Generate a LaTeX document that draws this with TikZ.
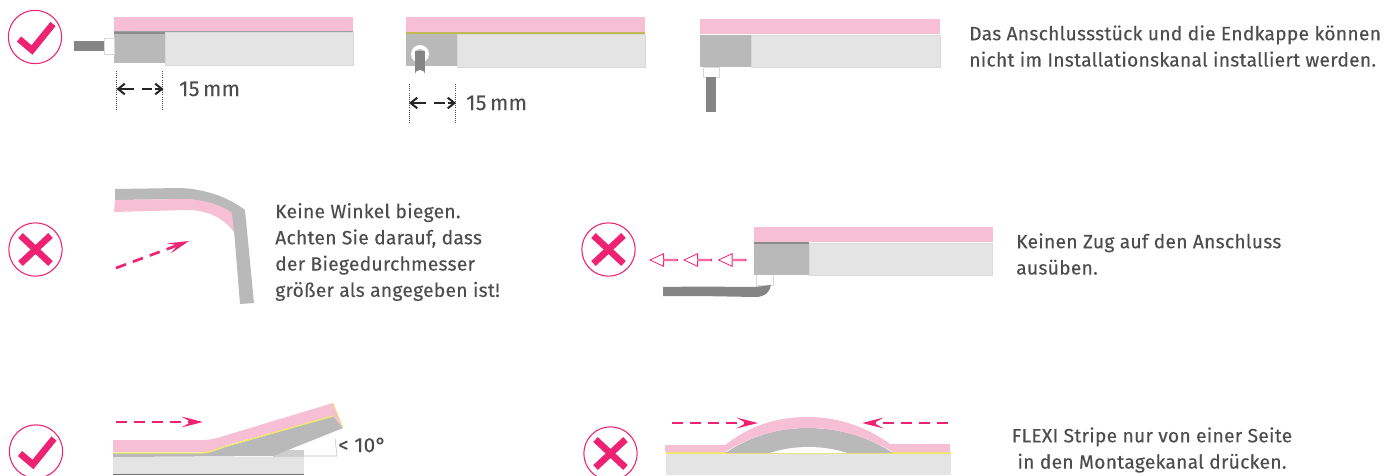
\documentclass[tikz,border=0pt]{standalone}
\usepackage{fontspec}
\setmainfont{Fira Sans}[LetterSpace=1.5, FakeBold=0.2]
\usepackage{xcolor}
\usetikzlibrary{arrows.meta, shapes.arrows}

\definecolor{stripepink}{HTML}{F6BFD3}
\definecolor{markpink}{HTML}{EE2273}
\definecolor{stripeyellow}{HTML}{EFE96A}
\definecolor{caselight}{HTML}{E4E4E4}
\definecolor{casedark}{HTML}{B9B9B9}
\definecolor{cablegrey}{HTML}{858585}
\definecolor{textgrey}{HTML}{4D4D4D}

\begin{document}
\begin{tikzpicture}[
        x=0.75pt, y=-0.75pt,
        ring/.style={circle, draw=markpink, line width=0.8pt, minimum size=40pt, inner sep=0pt},
        tick/.style={draw=markpink, line width=5pt},
        push/.style={draw=markpink, line width=2pt, dash pattern=on 8pt off 5.5pt, -{Stealth[inset=7pt, length=16pt, width=8pt]}},
        measure/.style={draw=black!85, line width=1.5pt, dash pattern=on 11pt off 6pt on 8pt off 2pt, {Straight Barb[length=5pt, width=8pt]}-{Straight Barb[length=5pt, width=8pt]}},
        guide/.style={draw=black!70, densely dotted, line width=0.6pt},
        lightcase/.style={fill=caselight, draw=black!15, line width=0.4pt},
        caption/.style={anchor=west, align=left, inner sep=0pt, text=textgrey, font=\fontsize{14.4pt}{19.7pt}\selectfont},
        pull/.style={single arrow, draw=markpink, fill=white, line width=0.6pt, shape border rotate=180, minimum height=20.5pt, minimum width=9.5pt, single arrow head extend=2.2pt, single arrow tip angle=50, inner sep=0pt}
    ]
        \useasboundingbox (0,0) rectangle (1389,475);

        % marks
        \foreach \name/\cx/\cy in {okA/35/37, okB/36/451.5} {
            \node [ring] (\name) at (\cx,\cy) {};
            \draw [tick] (\cx-16,\cy+2) -- (\cx-3,\cy+13) -- (\cx+18,\cy-13);
        }
        \foreach \name/\cx/\cy in {noA/35.5/249.5, noB/608.5/249.5, noC/610.5/453.5} {
            \node [ring] (\name) at (\cx,\cy) {};
            \draw [tick] (\cx-15,\cy-14) -- (\cx+15,\cy+14);
            \draw [tick] (\cx-15,\cy+14) -- (\cx+15,\cy-14);
        }

        % first row, end connector
        \path [lightcase] (165,32) rectangle (353,65);
        \fill [casedark] (114,32) rectangle (165,63);
        \fill [stripepink] (114,17) rectangle (353,31);
        \fill [black!38] (114,31) rectangle (353,32);
        \fill [black!45] (114,32) rectangle (165,33.5);
        \draw [black!15, line width=0.5pt] (104,38) rectangle (114,54);
        \fill [cablegrey] (74,41) rectangle (104,51);
        \coordinate (ma) at (116.5,89);
        \coordinate (mb) at (163.5,89);
        \draw [guide] (116.5,71) -- (116.5,110);
        \draw [guide] (162.5,71) -- (162.5,110);
        \draw [measure] (ma) -- (mb);
        \node [caption, font=\fontsize{16pt}{18pt}\selectfont] (lena) at (179,89) {15\,mm};

        % first row, connector from behind
        \path [lightcase] (457,34) rectangle (645,67);
        \fill [casedark] (406,34) rectangle (457,66);
        \fill [stripepink] (406,17) rectangle (645,32);
        \fill [stripeyellow!80!black] (406,32) rectangle (645,33.5);
        \fill [white] (420,54) circle (9);
        \fill [casedark] (420,54) circle (5);
        \fill [cablegrey] (415,51) rectangle (425,77);
        \fill [white] (420,75.5) circle (5.5);
        \coordinate (mc) at (409,103);
        \coordinate (md) at (456,103);
        \draw [guide] (409,84) -- (409,123);
        \draw [guide] (455,84) -- (455,123);
        \draw [measure] (mc) -- (md);
        \node [caption, font=\fontsize{16pt}{18pt}\selectfont] (lenb) at (466,103) {15\,mm};

        % first row, connector from below
        \path [lightcase] (751,35) rectangle (940,67);
        \fill [casedark] (700,35) rectangle (751,67);
        \fill [stripepink] (700,19) rectangle (940,34);
        \draw [black!15, line width=0.5pt] (703,67) rectangle (719,77);
        \fill [cablegrey] (706,77) rectangle (716,112);
        \node [caption] (tiptop) at (969,46) {Das Anschlussstück und die Endkappe können\\nicht im Installationskanal installiert werden.};

        % second row, bent stripe
        \fill [casedark] (115,189) -- (180,188) .. controls (205,189) and (228,197) .. (245,210)
            -- (254,303) -- (240,304) -- (234,230) .. controls (222,214) and (205,200) .. (187,199) -- (115,200) -- cycle;
        \fill [stripepink] (115,200) -- (187,199) .. controls (205,200) and (222,205) .. (232,213)
            -- (234,232) .. controls (222,216) and (205,210) .. (187,210) -- (114,212) -- cycle;
        \coordinate (bendfrom) at (116,268);
        \coordinate (bendto) at (189,241);
        \draw [push] (bendfrom) -- (bendto);
        \node [caption] (tipbend) at (275,252) {Keine Winkel biegen.\\Achten Sie darauf, dass\\der Biegedurchmesser\\größer als angegeben ist!};

        % second row, pull on connector
        \path [lightcase] (809,243) rectangle (992,275);
        \fill [casedark] (754,243) rectangle (809,275);
        \fill [stripepink] (754,227) rectangle (993,242);
        \fill [black!45] (754,242) rectangle (809,243.5);
        \draw [black!15, line width=0.5pt] (756,275) -- (756,285) -- (773,285) -- (773,275);
        \fill [cablegrey] (663,287) -- (700,286.5) -- (750,287) .. controls (760,287) and (768,285) .. (771,285)
            .. controls (770,292) and (765,297) .. (755,297) -- (700,296) -- (663,296) -- cycle;
        \node [pull] (pulla) at (733,260) {};
        \node [pull] (pullb) at (698.5,260) {};
        \node [pull] (pullc) at (664.5,260) {};
        \node [caption] (tippull) at (1016,254) {Keinen Zug auf den Anschluss\\ausüben.};

        % third row, lifted stripe
        \fill [caselight] (113,457) rectangle (304,475);
        \fill [black!55] (113,474) rectangle (304,475);
        \fill [casedark!70!white] (273,450) rectangle (304,457);
        \fill [casedark] (113,453) -- (203,453) -- (333,416) -- (343,428) -- (273,456) -- (113,457) -- cycle;
        \fill [stripepink] (113,440) -- (203,440) .. controls (212,440) and (220,437) .. (227,435)
            -- (333,403) -- (343,428) -- (333,416) -- (227,445) .. controls (220,448) and (212,452) .. (203,452) -- (113,452) -- cycle;
        \draw [stripeyellow, line width=1pt] (113,453) -- (203,453) .. controls (212,452) and (220,448) .. (227,446) -- (333,416);
        \draw [stripeyellow, line width=0.6pt] (333,403) -- (343,428);
        \draw [black!25, line width=0.4pt] (304,456) -- (337,456) -- (335,438);
        \coordinate (liftfrom) at (116,422);
        \coordinate (liftto) at (203,422);
        \draw [push] (liftfrom) -- (liftto);
        \node [caption, font=\fontsize{15.5pt}{17pt}\selectfont] (angle) at (338,445) {< 10°};

        % third row, arched stripe
        \fill [caselight] (666,454) rectangle (951,475);
        \fill [stripeyellow] (666,452) rectangle (951,454);
        \fill [casedark] (725,453) .. controls (750,437) and (775,428) .. (808,428)
            .. controls (840,428) and (868,437) .. (893,453) -- cycle;
        \fill [white] (770,453) .. controls (782,449) and (795,447) .. (808,447)
            .. controls (822,447) and (835,449) .. (847,453) -- cycle;
        \fill [stripepink] (665,445) -- (725,445) .. controls (750,426) and (775,417) .. (808,417)
            .. controls (840,417) and (868,428) .. (890,444) -- (950,444) -- (950,452) -- (893,452)
            .. controls (868,437) and (840,428) .. (808,428) .. controls (775,428) and (750,437) .. (725,452)
            -- (665,452) -- cycle;
        \coordinate (archl) at (672,423);
        \coordinate (archla) at (758,423);
        \coordinate (archr) at (948,423);
        \coordinate (archra) at (862,423);
        \draw [push] (archl) -- (archla);
        \draw [push] (archr) -- (archra);
        \node [caption, anchor=center, align=center] (tiparch) at (1152,450) {FLEXI Stripe nur von einer Seite\\in den Montagekanal drücken.};
    \end{tikzpicture}
\end{document}
